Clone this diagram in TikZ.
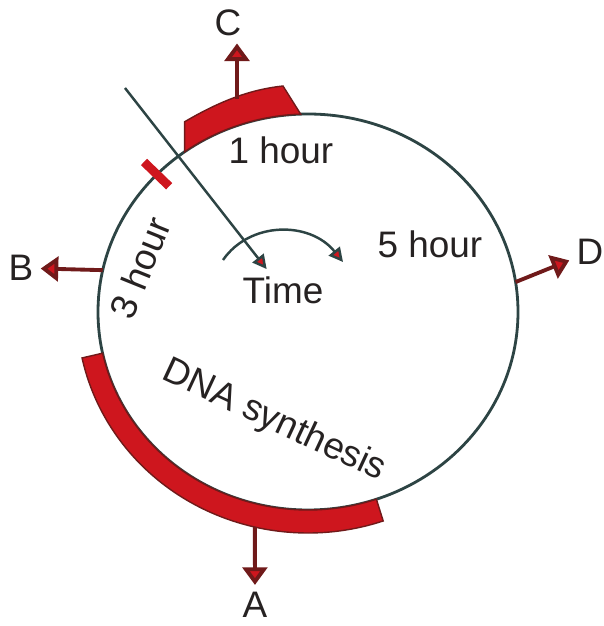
\documentclass[tikz,border=0pt]{standalone}
\usepackage{fontspec}
\setmainfont{Liberation Sans}
\usepackage{xcolor}
\usetikzlibrary{arrows.meta,calc}

\definecolor{bandred}{RGB}{206,22,30}
\definecolor{darkred}{RGB}{112,26,26}
\definecolor{rimgray}{RGB}{45,68,68}
\definecolor{inkgray}{RGB}{38,34,34}

\begin{document}
\begin{tikzpicture}[x=0.02cm,y=0.02cm,
    band/.style={fill=bandred, draw=darkred, line width=0.8pt},
    outarrow/.style={draw=darkred, line width=2.2pt, -{Triangle[width=14pt,length=10pt,fill=bandred]}},
    hand/.style={draw=rimgray, line width=1.4pt, -{Triangle[width=8pt,length=8pt,fill=bandred]}},
    lbl/.style={text=inkgray, font=\fontsize{21}{25}\selectfont, inner sep=4pt}]
    \useasboundingbox[fill=white] (0,0) rectangle (603,626);
    \coordinate (O) at (308,314);

    \draw[rimgray, line width=1.6pt] (O) ellipse [x radius=210, y radius=198];

    \fill[band] ($(O)+(126:210 and 198)$) -- ++(0,30) .. controls (225,528) and (255,537) .. (283,540)
        -- ($(O)+(92:210 and 198)$) arc[start angle=92, end angle=126, x radius=210, y radius=198] -- cycle;
    \fill[band] ($(O)+(192:210 and 198)$) arc[start angle=192, end angle=289, x radius=210, y radius=198]
        -- ($(O)+(289:231 and 221)$) arc[start angle=289, end angle=192, x radius=231, y radius=221] -- cycle;
    \draw[bandred, line width=5pt] ($(O)+(136:193 and 181)$) -- ($(O)+(136:228 and 216)$);

    \node[lbl] (A) at (255,21) {A};
    \node[lbl] (B) at (21,358) {B};
    \node[lbl] (C) at (228,603) {C};
    \node[lbl] (D) at (590,374) {D};

    \coordinate (cA) at ($(O)+(256.7:231 and 221)$);
    \coordinate (cB) at ($(O)+(167.8:210 and 198)$);
    \coordinate (cC) at (237,527);
    \coordinate (cD) at ($(O)+(8.7:210 and 198)$);

    \draw[outarrow] (cA) -- (A);
    \draw[outarrow] (cB) -- (B);
    \draw[outarrow] (cC) -- (cC |- C.south);
    \draw[outarrow] (cD) -- (D);

    \node[lbl] (one) at (281,476) {1 hour};
    \node[lbl] (five) at (430,382) {5 hour};
    \node[lbl, rotate=68] (three) at (140,358) {3 hour};
    \node[lbl, rotate=-25] (dna) at (274,205) {DNA synthesis};
    \node[lbl] (time) at (283,336) {Time};

    \coordinate (handtop) at (125,538);
    \coordinate (turnstart) at (223,366);
    \coordinate (turnend) at (343,364);
    \draw[hand] (handtop) -- (time);
    \draw[hand] (turnstart) .. controls (250,405) and (310,405) .. (turnend);
\end{tikzpicture}
\end{document}
